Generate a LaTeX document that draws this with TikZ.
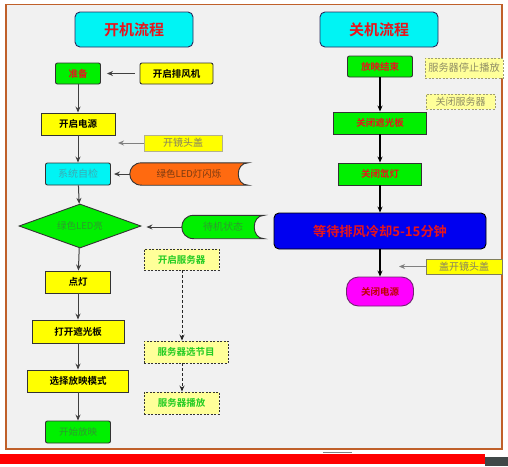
\documentclass[tikz,border=0pt]{standalone}
\usepackage{fontspec}
\setmainfont{Noto Sans CJK SC}[BoldFont={Noto Sans CJK SC Bold}]
\usetikzlibrary{shapes.geometric,arrows.meta}
\pgfdeclarelayer{back}\pgfdeclarelayer{mid}\pgfsetlayers{back,mid,main}
\definecolor{bgc}{HTML}{F1F1F1}
\definecolor{framec}{HTML}{C0602A}
\definecolor{cornerc}{HTML}{404848}
\definecolor{cyanc}{HTML}{00F4F4}
\definecolor{greenc}{HTML}{00F000}
\definecolor{yellowc}{HTML}{FFFF00}
\definecolor{lyellowc}{HTML}{FFFF99}
\definecolor{orangec}{HTML}{FF6A10}
\definecolor{bluec}{HTML}{0000F0}
\definecolor{magc}{HTML}{FF00FF}
\definecolor{redt}{HTML}{E8141B}
\definecolor{edgec}{HTML}{333333}
\definecolor{servt}{HTML}{22CC22}
\definecolor{greyt}{HTML}{857F60}
\definecolor{olivet}{HTML}{A09E70}
\definecolor{cyant}{HTML}{3AAAB4}
\definecolor{dgreent}{HTML}{2E9A2E}
\definecolor{brownt}{HTML}{7A3A12}
\begin{document}
\begin{tikzpicture}[x=1pt,y=-1pt,
  base/.style={draw=edgec, line width=0.9pt, inner sep=0pt, align=center,
    font=\fontsize{9.5}{11}\selectfont},
  bbase/.style={base, font=\fontsize{9.5}{11}\selectfont\bfseries},
  titlebox/.style={base, fill=cyanc, draw=edgec!80!blue, rounded corners=5pt,
    text=redt, font=\fontsize{15}{17}\selectfont\bfseries,
    minimum width=118pt, minimum height=35pt},
  ybox/.style={bbase, fill=yellowc, text=black},
  gbox/.style={bbase, fill=greenc, text=redt},
  srvbox/.style={bbase, fill=lyellowc, dashed, dash pattern=on 2pt off 1.5pt, text=servt},
  sdnode/.style={draw=none, inner sep=0pt, font=\fontsize{9.5}{11}\selectfont},
  sdline/.style={draw=edgec, line width=0.9pt},
  arr/.style={-{Stealth[length=6pt,width=5pt]}, line width=1pt, draw=black!75},
  rarr/.style={arr, line width=1.3pt, draw=black},
  garr/.style={arr, draw=gray},
  darr/.style={arr, draw=black!85, dash pattern=on 3pt off 2pt}
]
\useasboundingbox (0,0) rectangle (508,466);
\begin{pgfonlayer}{back}
  \fill[white] (0,0) rectangle (508,466);
  \filldraw[fill=bgc, draw=framec, line width=1.5pt] (6,4.5) rectangle (502,449);
  \fill[red] (0,454) rectangle (485,464);
  \fill[cornerc] (485,457) rectangle (508,466);
  \draw[gray, line width=1pt] (323,452) -- (352,452);
\end{pgfonlayer}

% titles
\node[titlebox] (t1) at (134,29.5) {开机流程};
\node[titlebox] (t2) at (379,29.5) {关机流程};

% left column
\node[gbox, rounded corners=2pt, minimum width=45pt, minimum height=21pt] (zb) at (78,73.5) {准备};
\node[ybox, rounded corners=2pt, minimum width=73pt, minimum height=21pt] (pf) at (176.5,73.5) {开启排风机};
\node[ybox, minimum width=74pt, minimum height=22pt] (dy) at (78,124) {开启电源};
\node[base, fill=yellowc, draw=olivet!80, text=greyt, minimum width=78pt, minimum height=16pt,
  font=\fontsize{10}{11}\selectfont] (jt) at (183,143) {开镜头盖};
\coordinate (jtend) at (118,143);
\node[base, fill=cyanc, text=cyant, rounded corners=2pt, minimum width=65pt, minimum height=22pt,
  font=\fontsize{10}{11}\selectfont] (zj) at (78,174) {系统自检};
\node[sdnode, text=brownt, minimum width=118pt, minimum height=22pt] (led) at (189,174) {绿色LED灯闪烁};
\node[base, diamond, aspect=2.77, fill=greenc, text=dgreent, minimum width=122pt, minimum height=44pt] (dm) at (80,226) {绿色LED亮};
\node[sdnode, text=dgreent, minimum width=82pt, minimum height=23pt,
  font=\fontsize{10}{11}\selectfont] (dj) at (223,227) {待机状态};
\node[ybox, minimum width=65pt, minimum height=22pt] (dd) at (78,282) {点灯};
\node[ybox, minimum width=92pt, minimum height=23pt] (zg) at (78,331.5) {打开遮光板};
\node[ybox, minimum width=101pt, minimum height=22pt] (xz) at (78,381) {选择放映模式};
\node[base, fill=greenc, text=dgreent, rounded corners=2pt, minimum width=65pt, minimum height=22pt] (ks) at (78,432) {开始放映};

% server column
\node[srvbox, minimum width=75pt, minimum height=21pt] (kf) at (181.5,259.5) {开启服务器};
\node[srvbox, minimum width=84pt, minimum height=22pt] (jm) at (186,352) {服务器选节目};
\node[srvbox, minimum width=75pt, minimum height=22pt] (bf) at (181.5,403) {服务器播放};

% right column
\node[gbox, rounded corners=2pt, minimum width=65pt, minimum height=21pt] (fj) at (380,66.5) {放映结束};
\node[base, fill=lyellowc, dashed, dash pattern=on 2pt off 1.5pt, draw=olivet, text=olivet!90!black,
  minimum width=78pt, minimum height=20pt, font=\fontsize{10.2}{11}\selectfont] (tz) at (464,68) {服务器停止播放};
\node[base, fill=lyellowc, dashed, dash pattern=on 2pt off 1.5pt, draw=olivet, text=olivet!90!black,
  minimum width=69pt, minimum height=15pt, font=\fontsize{10}{11}\selectfont] (gf) at (460.5,101.5) {关闭服务器};
\node[gbox, minimum width=93pt, minimum height=22pt] (gz) at (380,123) {关闭遮光板};
\node[gbox, minimum width=83pt, minimum height=22pt] (xd) at (380,174) {关闭氙灯};
\node[bbase, fill=bluec, draw=black, text=redt, rounded corners=5pt, minimum width=212pt, minimum height=36pt,
  font=\fontsize{13.2}{15}\selectfont\bfseries] (dl) at (380,231) {等待排风冷却5-15分钟};
\node[bbase, fill=magc, draw=edgec!70!magc, text=red!75!black, rounded corners=12pt, minimum width=67pt, minimum height=29pt] (gd) at (380,291.5) {关闭电源};
\node[base, fill=yellowc, draw=olivet!80!black, text=greyt, minimum width=76pt, minimum height=15pt,
  font=\fontsize{10}{11}\selectfont] (gk) at (464,266.5) {盖开镜头盖};
\coordinate (gkend) at (399,266.5);

% stored-data shapes (convex left, concave right)
\begin{pgfonlayer}{mid}
  \filldraw[sdline, fill=orangec] (led.north east)
    .. controls ([xshift=-13.3pt]led.north east) and ([xshift=-13.3pt]led.south east) .. (led.south east)
    -- ([xshift=12pt]led.south west)
    .. controls ([xshift=-4pt]led.south west) and ([xshift=-4pt]led.north west) .. ([xshift=12pt]led.north west)
    -- cycle;
  \filldraw[sdline, fill=greenc] (dj.north east)
    .. controls ([xshift=-13.3pt]dj.north east) and ([xshift=-13.3pt]dj.south east) .. (dj.south east)
    -- ([xshift=12pt]dj.south west)
    .. controls ([xshift=-4pt]dj.south west) and ([xshift=-4pt]dj.north west) .. ([xshift=12pt]dj.north west)
    -- cycle;
\end{pgfonlayer}

% connectors left
\draw[arr, shorten <=5pt, shorten >=6pt] (pf) -- (zb);
\draw[arr] (zb) -- (dy);
\draw[arr] (dy) -- (zj);
\draw[garr] (jt) -- (jtend);
\draw[arr, shorten >=3pt] (led.west) -- (zj.east);
\draw[arr] (zj) -- (dm);
\draw[arr, shorten >=5pt] (dj.west) -- (dj.west -| dm.east);
\draw[arr] (dm) -- (dd);
\draw[arr] (dd) -- (zg);
\draw[arr] (zg) -- (xz);
\draw[arr] (xz) -- (ks);
\draw[darr] ([xshift=0.5pt]kf.south) -- ([xshift=0.5pt]kf.south |- jm.north);
\draw[darr] ([xshift=0.5pt]kf.south |- jm.south) -- ([xshift=0.5pt]kf.south |- bf.north);

% connectors right
\draw[rarr] (fj) -- (gz);
\draw[rarr] (gz) -- (xd);
\draw[rarr] (xd) -- (dl);
\draw[rarr] (dl) -- (gd);
\draw[garr] (gk) -- (gkend);
\end{tikzpicture}
\end{document}
